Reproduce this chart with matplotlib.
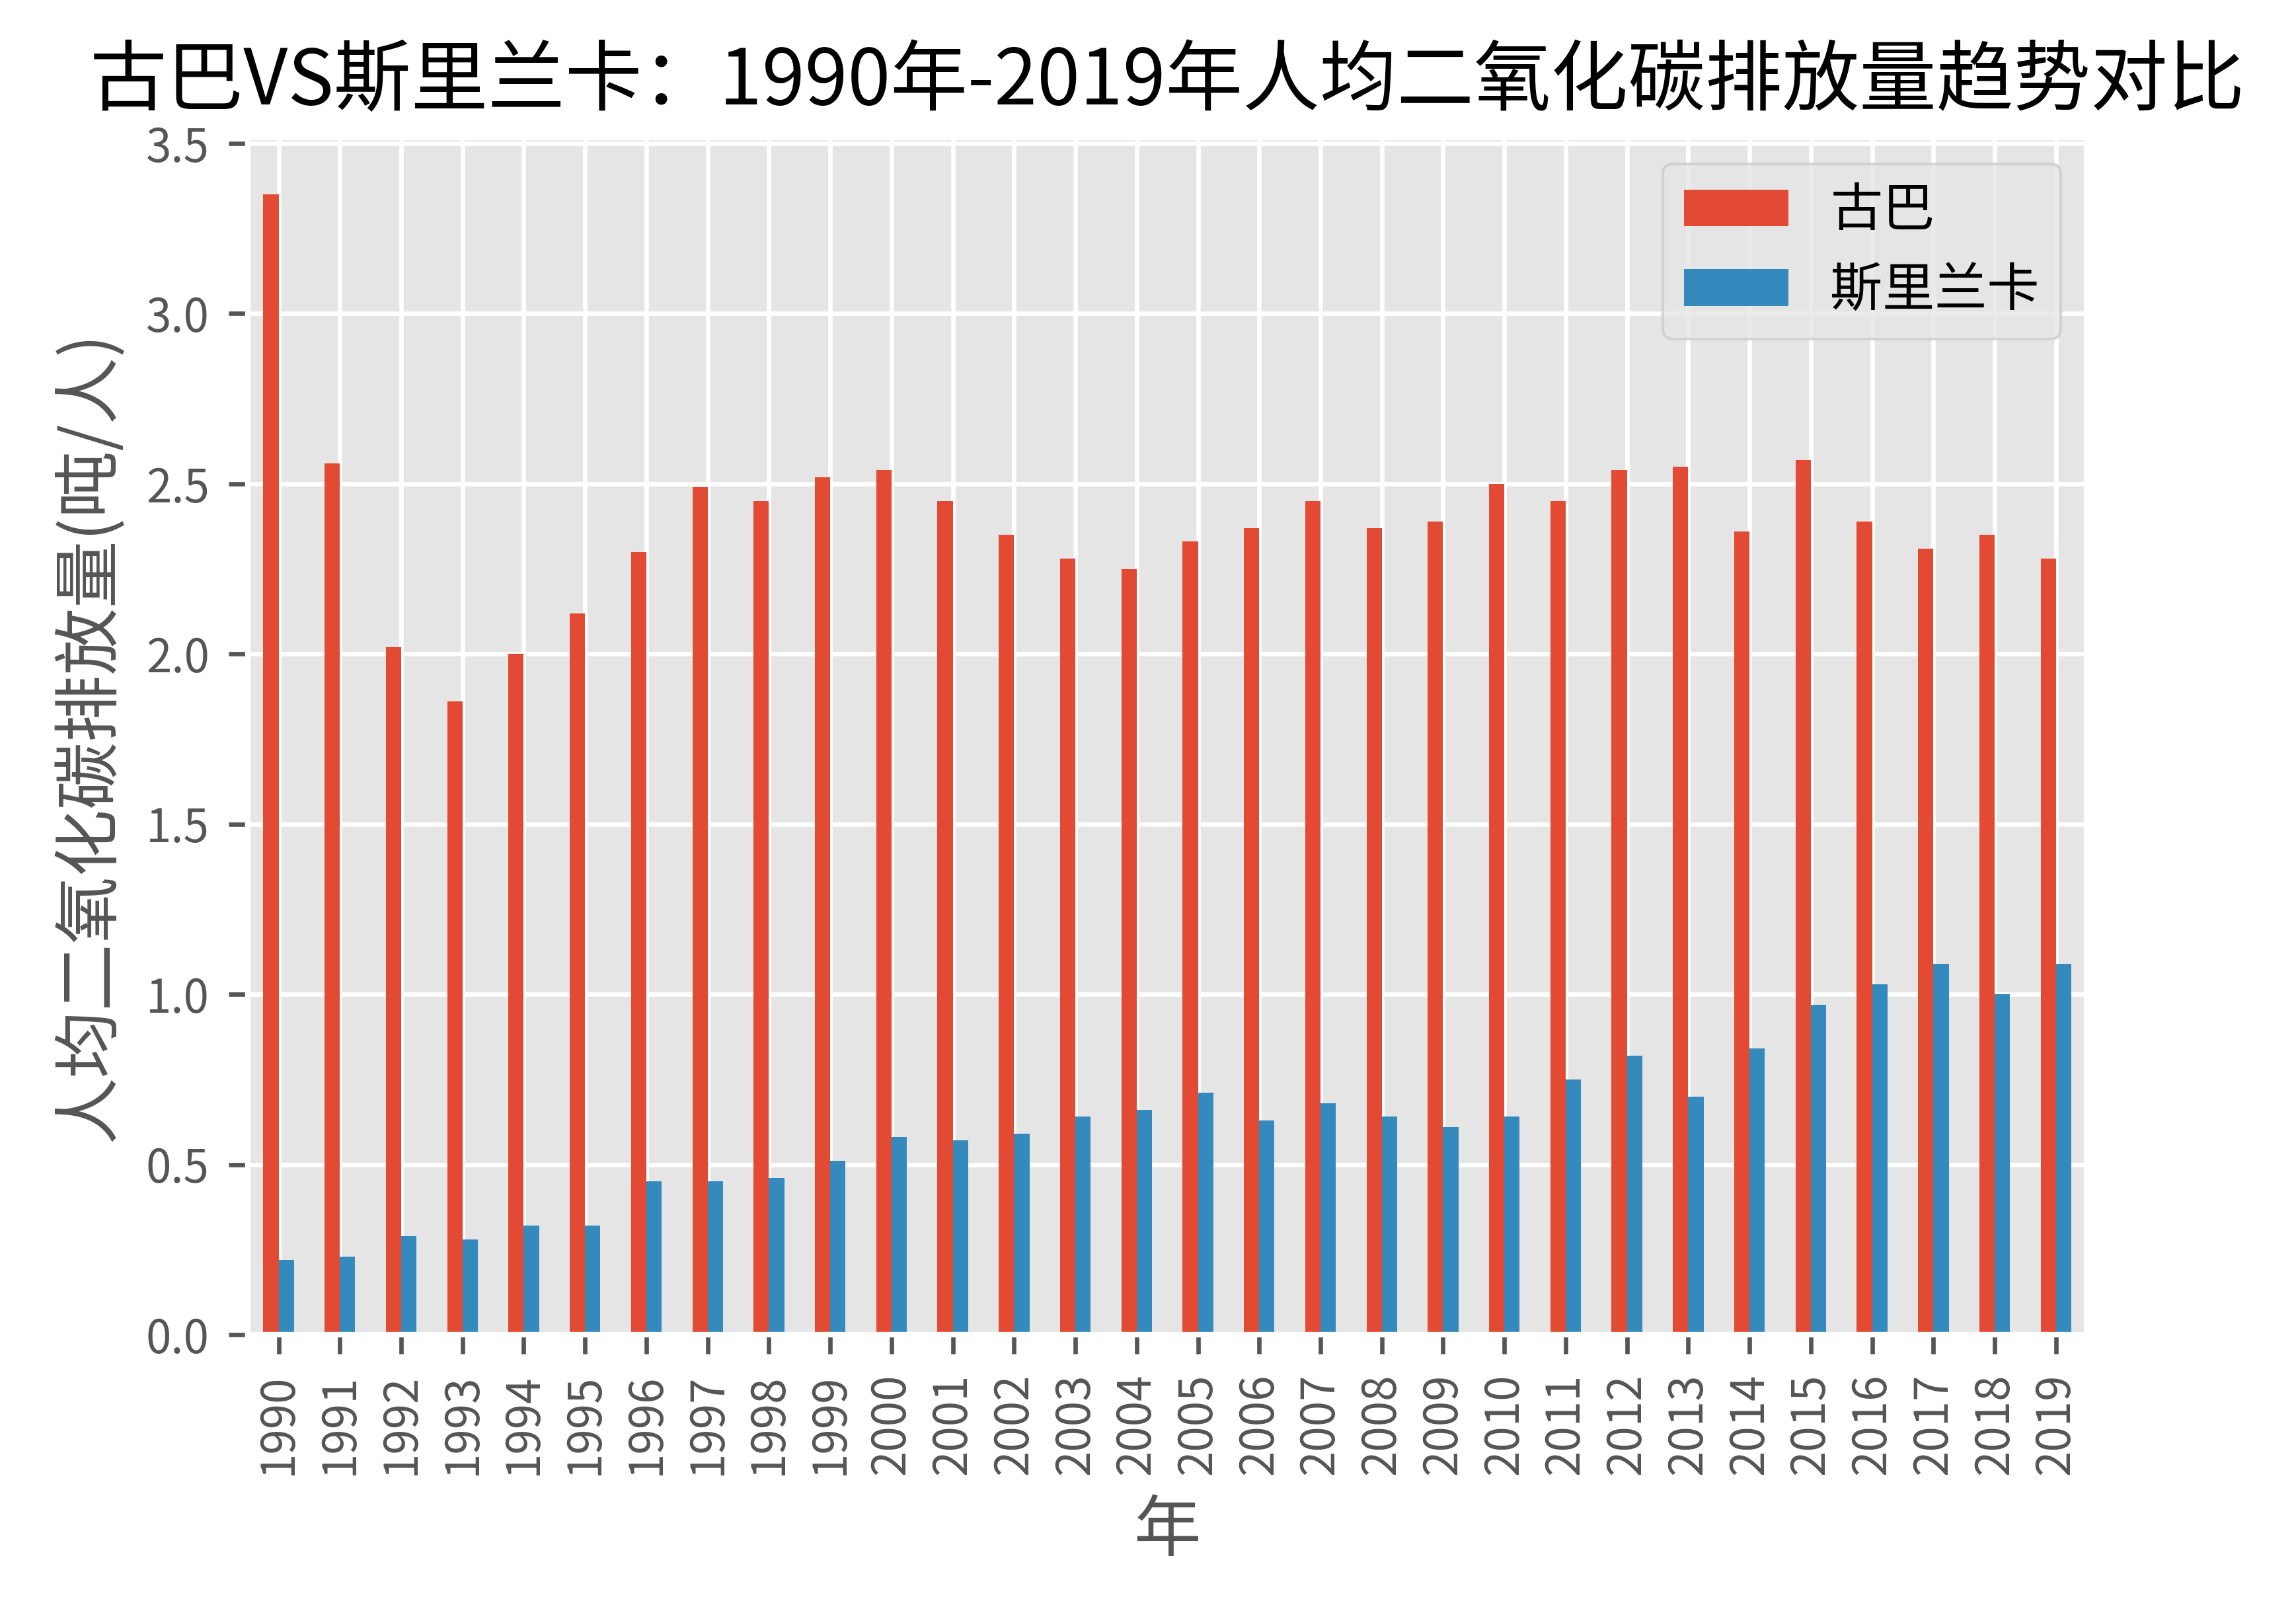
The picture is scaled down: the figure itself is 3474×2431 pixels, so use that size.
import matplotlib
matplotlib.use("Agg")
import matplotlib.pyplot as plt
import pandas as pd

plt.style.use("ggplot")
plt.rcParams["font.family"] = ["Noto Sans CJK SC", "DejaVu Sans"]
plt.rcParams["axes.unicode_minus"] = False

# 数据
years = list(range(1990, 2020))
cuba = [3.35, 2.56, 2.02, 1.86, 2.00, 2.12, 2.30, 2.49, 2.45, 2.52,
        2.54, 2.45, 2.35, 2.28, 2.25, 2.33, 2.37, 2.45, 2.37, 2.39,
        2.50, 2.45, 2.54, 2.55, 2.36, 2.57, 2.39, 2.31, 2.35, 2.28]
sri_lanka = [0.22, 0.23, 0.29, 0.28, 0.32, 0.32, 0.45, 0.45, 0.46, 0.51,
             0.58, 0.57, 0.59, 0.64, 0.66, 0.71, 0.63, 0.68, 0.64, 0.61,
             0.64, 0.75, 0.82, 0.70, 0.84, 0.97, 1.03, 1.09, 1.00, 1.09]

df = pd.DataFrame({"古巴": cuba, "斯里兰卡": sri_lanka}, index=years)
df.index.name = "年"

fig = plt.figure(figsize=(5.79, 4.0517), dpi=600)
ax = fig.add_axes([0.108, 0.1695, 0.8008, 0.7449])
df.plot(kind="bar", ax=ax)

ax.set_title("古巴VS斯里兰卡：1990年-2019年人均二氧化碳排放量趋势对比", fontsize=14)
ax.set_ylabel("人均二氧化碳排放量(吨/人)", fontsize=12.2)
ax.set_xlabel("年", fontsize=12.2)
ax.tick_params(axis="both", labelsize=8.3)
ax.legend(fontsize=9.5, loc="upper right")

fig.savefig("out.png", dpi=600)
